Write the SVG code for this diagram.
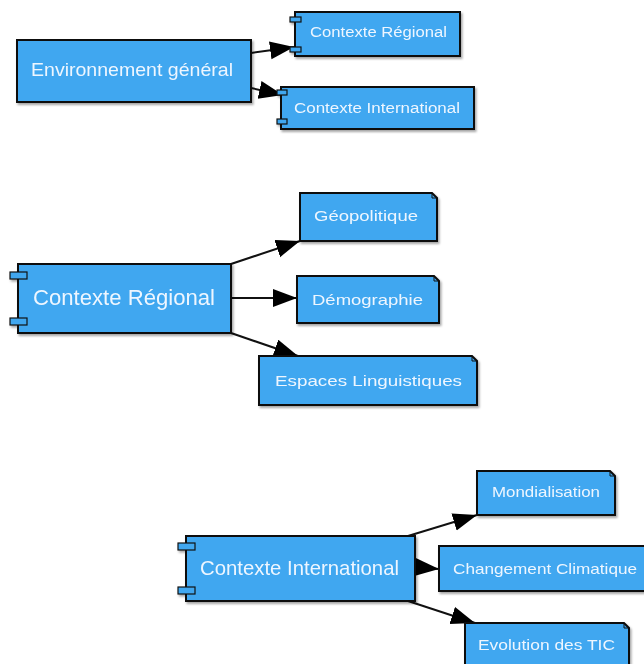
<svg xmlns="http://www.w3.org/2000/svg" width="644" height="664" viewBox="0 0 644 664">
<style>
.box{fill:#3fa7f0;stroke:#111;stroke-width:2}
.tab{fill:#3fa7f0;stroke:#111;stroke-width:1.2}
.t{font-family:"Liberation Sans",Arial,sans-serif;fill:#eef6ff;text-anchor:middle;dominant-baseline:central}
.e{stroke:#111;stroke-width:2;fill:none}
</style>
<defs>
<filter id="sh" x="-10%" y="-10%" width="130%" height="140%"><feDropShadow dx="1.5" dy="2" stdDeviation="1" flood-color="#000" flood-opacity="0.35"/></filter>
<marker id="ah" markerUnits="userSpaceOnUse" markerWidth="26" markerHeight="20" refX="24" refY="9" orient="auto"><path d="M0,0 L24,9 L0,18 Z" fill="#000"/></marker>
</defs>
<g id="connectors">
<line class="e" x1="251" y1="53" x2="294" y2="47" marker-end="url(#ah)"/>
<line class="e" x1="251" y1="88" x2="283" y2="95" marker-end="url(#ah)"/>
<line class="e" x1="231" y1="264" x2="300" y2="241" marker-end="url(#ah)"/>
<line class="e" x1="231" y1="298" x2="297" y2="298" marker-end="url(#ah)"/>
<line class="e" x1="231" y1="333" x2="298" y2="356" marker-end="url(#ah)"/>
<line class="e" x1="408" y1="536" x2="477" y2="515" marker-end="url(#ah)"/>
<line class="e" x1="415" y1="567" x2="439" y2="569" marker-end="url(#ah)"/>
<line class="e" x1="408" y1="601" x2="475" y2="623" marker-end="url(#ah)"/>
</g>
<g id="env" filter="url(#sh)">
<rect class="box" x="17" y="40" width="234" height="62"/>
<text class="t" x="132" y="69" font-size="18.5" textLength="202" lengthAdjust="spacingAndGlyphs">Environnement général</text>
</g>
<g id="reg-small" filter="url(#sh)">
<rect class="box" x="295" y="12" width="165" height="44"/>
<rect class="tab" x="290" y="17" width="11" height="5"/>
<rect class="tab" x="290" y="47" width="11" height="5"/>
<text class="t" x="378.5" y="32" font-size="14" textLength="137" lengthAdjust="spacingAndGlyphs">Contexte Régional</text>
</g>
<g id="int-small" filter="url(#sh)">
<rect class="box" x="281" y="87" width="193" height="42"/>
<rect class="tab" x="277" y="90" width="10" height="5"/>
<rect class="tab" x="277" y="119" width="10" height="5"/>
<text class="t" x="377" y="108" font-size="14" textLength="166" lengthAdjust="spacingAndGlyphs">Contexte International</text>
</g>
<g id="reg" filter="url(#sh)">
<rect class="box" x="18" y="264" width="213" height="69"/>
<rect class="tab" x="10" y="272" width="17" height="7"/>
<rect class="tab" x="10" y="318" width="17" height="7"/>
<text class="t" x="124" y="297" font-size="22" textLength="182" lengthAdjust="spacingAndGlyphs">Contexte Régional</text>
</g>
<g id="geo" filter="url(#sh)">
<path class="box" d="M300,193 H432 L437,198 V241 H300 Z"/>
<path d="M432,193 V198 H437" fill="none" stroke="#111" stroke-width="1"/>
<text class="t" x="366" y="215" font-size="15" textLength="104" lengthAdjust="spacingAndGlyphs">Géopolitique</text>
</g>
<g id="demo" filter="url(#sh)">
<path class="box" d="M297,276 H434 L439,281 V323 H297 Z"/>
<path d="M434,276 V281 H439" fill="none" stroke="#111" stroke-width="1"/>
<text class="t" x="367.5" y="299" font-size="15" textLength="111" lengthAdjust="spacingAndGlyphs">Démographie</text>
</g>
<g id="esp" filter="url(#sh)">
<path class="box" d="M259,356 H472 L477,361 V405 H259 Z"/>
<path d="M472,356 V361 H477" fill="none" stroke="#111" stroke-width="1"/>
<text class="t" x="368.5" y="380" font-size="15" textLength="187" lengthAdjust="spacingAndGlyphs">Espaces Linguistiques</text>
</g>
<g id="int" filter="url(#sh)">
<rect class="box" x="186" y="536" width="229" height="65"/>
<rect class="tab" x="178" y="543" width="17" height="7"/>
<rect class="tab" x="178" y="587" width="17" height="7"/>
<text class="t" x="299.5" y="567" font-size="21" textLength="199" lengthAdjust="spacingAndGlyphs">Contexte International</text>
</g>
<g id="mond" filter="url(#sh)">
<path class="box" d="M477,471 H610 L615,476 V515 H477 Z"/>
<path d="M610,471 V476 H615" fill="none" stroke="#111" stroke-width="1"/>
<text class="t" x="546" y="492" font-size="14.5" textLength="108" lengthAdjust="spacingAndGlyphs">Mondialisation</text>
</g>
<g id="clim" filter="url(#sh)">
<rect class="box" x="439" y="546" width="206" height="45"/>
<text class="t" x="545" y="569" font-size="14.5" textLength="184" lengthAdjust="spacingAndGlyphs">Changement Climatique</text>
</g>
<g id="tic" filter="url(#sh)">
<path class="box" d="M465,623 H624 L629,628 V666 H465 Z"/>
<path d="M624,623 V628 H629" fill="none" stroke="#111" stroke-width="1"/>
<text class="t" x="546.5" y="644" font-size="15" textLength="137" lengthAdjust="spacingAndGlyphs">Evolution des TIC</text>
</g>
</svg>
